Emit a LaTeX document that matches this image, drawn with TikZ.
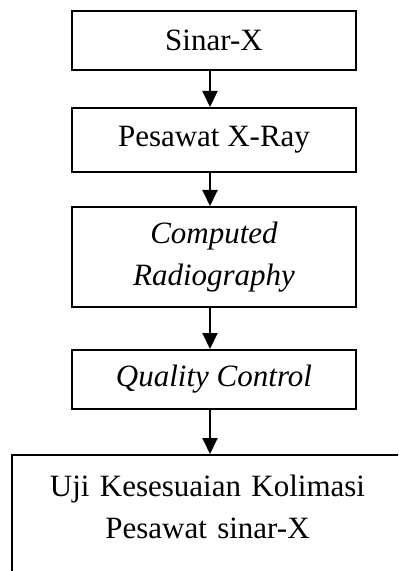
\documentclass[tikz,border=0pt]{standalone}
\usepackage{fontspec}
\setmainfont{Liberation Serif}
\usetikzlibrary{arrows.meta}

\begin{document}
\begin{tikzpicture}[x=0.5pt,y=-0.5pt,
  font=\fontsize{15.5pt}{21pt}\selectfont,
  stage/.style={draw=black,line width=1pt,fill=white,align=center,
                minimum width=142pt,inner sep=2pt},
  arrw/.style={-{Triangle[length=8pt,width=7.5pt]},line width=1pt}]
\useasboundingbox (0,0) rectangle (398,571);
\clip (0,0) rectangle (398,571);

\node[stage,minimum height=29.5pt] (sinar) at (214,40.5) {Sinar-X};
\node[stage,minimum height=32pt] (pesawat) at (214,140) {Pesawat X-Ray};
\node[stage,minimum height=50pt] (cr) at (214,257) {\itshape Computed\\\itshape Radiography};
\node[stage,minimum height=29.5pt] (qc) at (214,379.5) {\itshape Quality Control};
% last box runs off the page at the right and bottom
\node[stage,anchor=north,minimum width=195.5pt,text width=180pt,inner ysep=10pt,
  text depth=60pt] (uji) at (207.5,454) {Uji Kesesuaian Kolimasi\\Pesawat sinar-X};

\draw[arrw] ([xshift=-2pt]sinar.south) -- ([xshift=-2pt]pesawat.north);
\draw[arrw] ([xshift=-2pt]pesawat.south) -- ([xshift=-2pt]cr.north);
\draw[arrw] ([xshift=-2pt]cr.south) -- ([xshift=-2pt]qc.north);
\draw[arrw] ([xshift=-2pt]qc.south) -- ([xshift=-2pt]qc.south |- uji.north);
\end{tikzpicture}
\end{document}
